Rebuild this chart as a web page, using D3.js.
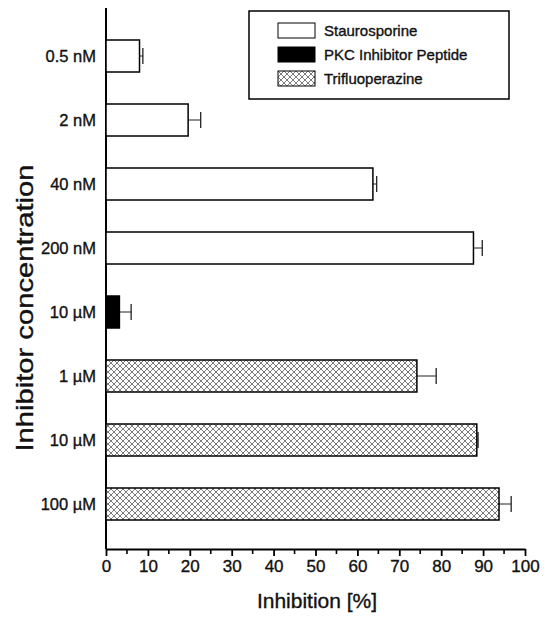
<!DOCTYPE html>
<html>
<head>
<meta charset="utf-8">
<script src="https://cdn.jsdelivr.net/npm/d3@7"></script>
<style>
  body { margin: 0; background: #fff; }
  text { font-family: "Liberation Sans", Arial, sans-serif; fill: #111; stroke: #111; stroke-width: 0.35px; }
</style>
</head>
<body>
<svg id="chart"></svg>
<script>
const labels = ["0.5 nM", "2 nM", "40 nM", "200 nM", "10 µM", "1 µM", "10 µM ", "100 µM"]
const values = [8, 19.6, 63.7, 87.7, 3.2, 74.2, 88.5, 93.8]
const errors = [0.8, 3, 0.9, 2.1, 2.8, 4.6, 0.3, 2.9]
const groups = ["st", "st", "st", "st", "pkc", "tfp", "tfp", "tfp"]
const legendNames = ["Staurosporine", "PKC Inhibitor Peptide", "Trifluoperazine"]
const legendKeys = ["st", "pkc", "tfp"]
const xTicks = [0, 10, 20, 30, 40, 50, 60, 70, 80, 90, 100]

const data = labels.map(function(d, i) {
  return {label: d, value: values[i], err: errors[i], group: groups[i]}
})

const svg = d3.select("#chart")
  .attr("width", 546)
  .attr("height", 617)

const defs = svg.append("defs")
const pat = defs.append("pattern")
  .attr("id", "hatch")
  .attr("patternUnits", "userSpaceOnUse")
  .attr("width", 6)
  .attr("height", 6)
pat.append("rect").attr("width", 6).attr("height", 6).attr("fill", "#fff")
pat.append("path")
  .attr("d", "M0,0 L6,6 M6,0 L0,6 M-1,5 L1,7 M5,-1 L7,1 M-1,1 L1,-1 M5,7 L7,5")
  .attr("stroke", "#444")
  .attr("stroke-width", 0.7)

const fill = {st: "#fff", pkc: "#000", tfp: "url(#hatch)"}

const x = d3.scaleLinear().domain([0, 100]).range([106, 525])
const y = d3.scaleBand().domain(labels).range([24, 536])
  .paddingInner(0.5).paddingOuter(0.25)

// axes lines
svg.append("line")
  .attr("x1", x(0)).attr("x2", x(0))
  .attr("y1", 8).attr("y2", 549)
  .attr("stroke", "#000").attr("stroke-width", 2)

const xAxis = svg.append("g")
  .attr("transform", "translate(0,549)")
  .call(d3.axisBottom(x).tickValues(xTicks).tickSize(7).tickPadding(4).tickSizeOuter(0))
xAxis.select(".domain").attr("stroke-width", 2)
xAxis.selectAll(".tick line").attr("stroke-width", 1.8)
xAxis.selectAll("text").attr("font-size", 17).attr("font-family", "Liberation Sans, Arial, sans-serif")

svg.append("g")
  .selectAll("line")
  .data(d3.range(5, 100, 10))
  .enter()
  .append("line")
  .attr("x1", function(d) {return x(d)})
  .attr("x2", function(d) {return x(d)})
  .attr("y1", 549)
  .attr("y2", 554)
  .attr("stroke", "#000")
  .attr("stroke-width", 1.6)

// y labels
svg.append("g")
  .selectAll("text")
  .data(data)
  .enter()
  .append("text")
  .attr("x", 96)
  .attr("y", function(d) {return y(d.label) + y.bandwidth() / 2})
  .attr("dy", "0.35em")
  .attr("text-anchor", "end")
  .attr("font-size", 16.5)
  .text(function(d) {return d.label.trim()})

// error bars
const eb = svg.append("g")
eb.selectAll("line.h")
  .data(data).enter()
  .append("line")
  .attr("x1", function(d) {return x(d.value)})
  .attr("x2", function(d) {return x(d.value + d.err)})
  .attr("y1", function(d) {return y(d.label) + y.bandwidth() / 2})
  .attr("y2", function(d) {return y(d.label) + y.bandwidth() / 2})
  .attr("stroke", "#222").attr("stroke-width", 1)
eb.selectAll("line.c")
  .data(data).enter()
  .append("line")
  .attr("x1", function(d) {return x(d.value + d.err)})
  .attr("x2", function(d) {return x(d.value + d.err)})
  .attr("y1", function(d) {return y(d.label) + y.bandwidth() / 2 - 8})
  .attr("y2", function(d) {return y(d.label) + y.bandwidth() / 2 + 8})
  .attr("stroke", "#222").attr("stroke-width", 1.3)

// bars
svg.append("g")
  .selectAll("rect")
  .data(data)
  .enter()
  .append("rect")
  .attr("x", x(0))
  .attr("y", function(d) {return y(d.label)})
  .attr("width", function(d) {return x(d.value) - x(0)})
  .attr("height", y.bandwidth())
  .attr("fill", function(d) {return fill[d.group]})
  .attr("stroke", "#000")
  .attr("stroke-width", 1.5)

// titles
svg.append("text")
  .attr("x", 317).attr("y", 608)
  .attr("text-anchor", "middle")
  .attr("font-size", 21)
  .text("Inhibition [%]")

svg.append("text")
  .attr("transform", "translate(33,308) rotate(-90)")
  .attr("text-anchor", "middle")
  .attr("font-size", 24)
  .attr("textLength", 287)
  .attr("lengthAdjust", "spacingAndGlyphs")
  .text("Inhibitor concentration")

// legend
const lg = svg.append("g")
lg.append("rect")
  .attr("x", 249).attr("y", 11).attr("width", 260).attr("height", 88)
  .attr("fill", "#fff").attr("stroke", "#000").attr("stroke-width", 1.5)
const rows = lg.selectAll("g.row")
  .data(legendKeys).enter()
  .append("g")
  .attr("transform", function(d, i) {return "translate(278," + (23 + i * 24) + ")"})
rows.append("rect")
  .attr("width", 37).attr("height", 15)
  .attr("fill", function(d) {return fill[d]})
  .attr("stroke", "#000").attr("stroke-width", 1)
rows.append("text")
  .attr("x", 46).attr("y", 8)
  .attr("dy", "0.35em")
  .attr("font-size", 15)
  .text(function(d, i) {return legendNames[i]})
</script>
</body>
</html>
